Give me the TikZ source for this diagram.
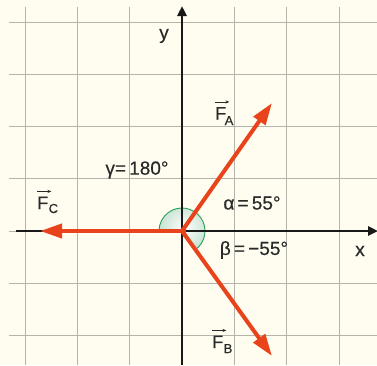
\documentclass[tikz,border=0pt]{standalone}
\usepackage{fontspec}
\setmainfont{Liberation Sans}[FakeBold=0.35]
\usetikzlibrary{arrows.meta,calc}
\definecolor{bg}{HTML}{FEFDF0}
\definecolor{gridc}{HTML}{B4B4AC}
\definecolor{vecred}{HTML}{E8431A}
\definecolor{txt}{HTML}{2A2A2A}
\definecolor{angleg}{HTML}{2A9E55}
\definecolor{anglefill}{HTML}{C6E3D2}
\tikzset{
  gridline/.style={draw=gridc, line width=0.6pt},
  axisline/.style={draw=black!90, line width=2.6pt, -{Triangle[length=10pt,width=9pt]}},
  vecline/.style={draw=vecred, line width=4pt, -{Triangle[length=22pt,width=14pt]}},
  lbl/.style={text=txt, font=\fontsize{19}{22}\selectfont, inner sep=0pt},
  flbl/.style={text=txt, font=\fontsize{18}{20}\selectfont, inner sep=0pt, anchor=base west},
  sublbl/.style={text=txt, font=\fontsize{13}{14}\selectfont, inner sep=0pt, anchor=base west},
  varrow/.style={draw=txt, line width=0.8pt, -{Stealth[length=4pt,width=3.2pt]}},
}
\begin{document}
\begin{tikzpicture}[x=1pt,y=1pt]
\fill[bg] (0,0) rectangle (377,-365);
\useasboundingbox (0,0) rectangle (377,-365);
% grid
\foreach \gx in {25.1,77.4,129.7,234.3,286.6,338.9}
  \draw[gridline] (\gx,-7) -- (\gx,-365);
\foreach \gy in {21.8,74.1,126.4,178.7,283.3,335.6}
  \draw[gridline] (9,-\gy) -- (377,-\gy);
\draw[gridline] (9,-231) -- (16,-231);
% key points
\coordinate (O) at (182,-231);
\coordinate (A) at (272,-103);
\coordinate (B) at (272,-356);
\coordinate (C) at (40,-231);
\coordinate (Ybot) at (182,-365);
\coordinate (Ytop) at (182,-6);
\coordinate (Xl) at (16,-231);
\coordinate (Xr) at (378,-231);
% angle sector
\shade[inner color=white, outer color=anglefill] (O) -- ++(-55:23) arc[start angle=-55, end angle=180, radius=23] -- cycle;
\draw[angleg, line width=0.9pt] ($(O)+(-55:23)$) arc[start angle=-55, end angle=180, radius=23];
% axes
\draw[axisline] (Ybot) -- (Ytop);
\draw[axisline] (Xl) -- (Xr);
% vectors
\draw[vecline] (O) -- (A);
\draw[vecline] (O) -- (B);
\draw[vecline] ([xshift=4pt]O) -- (C);
% axis labels
\node[lbl] (ly) at (164,-36) {y};
\node[lbl] (lx) at (360,-251) {x};
% vector labels
\node[flbl] (fa) at (215,-119.5) {F};
\node[sublbl] (fasub) at (224.5,-125) {A};
\draw[varrow] ([yshift=5pt]fa.north west) -- ([yshift=5pt,xshift=3pt]fa.north east);
\node[flbl] (fb) at (212,-348) {F};
\node[sublbl] (fbsub) at (223.5,-353) {B};
\draw[varrow] ([yshift=5pt]fb.north west) -- ([yshift=5pt,xshift=3pt]fb.north east);
\node[flbl] (fc) at (37,-209) {F};
\node[sublbl] (fcsub) at (48.5,-213) {C};
\draw[varrow] ([yshift=5pt]fc.north west) -- ([yshift=5pt,xshift=3pt]fc.north east);
% angle labels
\node[lbl] (la) at (252,-203) {α\,=\,55°};
\node[lbl] (lb) at (254,-250) {β\,=\,−55°};
\node[lbl] (lg) at (137,-170) {γ=\,180°};
\end{tikzpicture}
\end{document}
